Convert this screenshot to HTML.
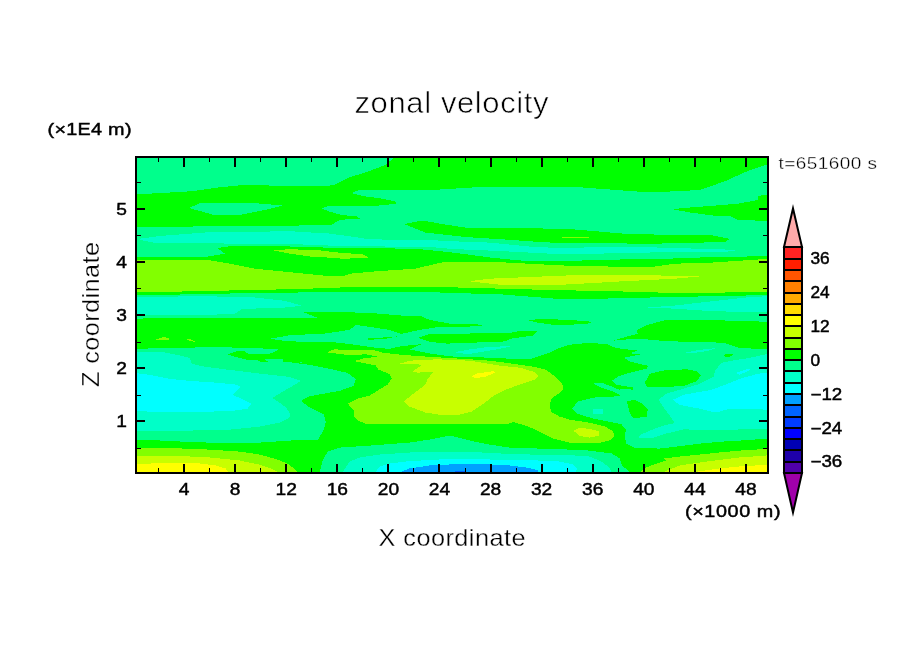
<!DOCTYPE html>
<html><head><meta charset="utf-8"><title>zonal velocity</title>
<style>
html,body{margin:0;padding:0;background:#fff;}
body{width:904px;height:654px;overflow:hidden;}
svg{display:block;}
text{font-family:"Liberation Sans",sans-serif;fill:#000;}
.thin{stroke:#fff;stroke-width:0.9px;}
.lab{font-size:16.5px;stroke:#000;stroke-width:0.5px;}
</style></head><body>
<svg width="904" height="654" viewBox="0 0 904 654">
<rect x="0" y="0" width="904" height="654" fill="#fff"/>
<defs><clipPath id="pc"><rect x="136" y="157" width="632" height="316"/></clipPath></defs>
<g clip-path="url(#pc)" shape-rendering="crispEdges">
<rect x="136" y="157" width="632" height="316" fill="#00ff8c"/>
<polygon fill="#00ff00" points="135.0,194.5 192.5,191.2 217.5,187.5 242.5,185.0 305.0,186.2 327.2,186.0 334.9,184.7 348.9,177.7 372.1,170.0 385.0,165.0 393.8,158.0 394.0,155.0 770.0,155.0 770.0,163.5 750.0,170.0 725.0,181.2 700.0,190.0 650.0,192.5 582.5,187.5 550.0,187.0 480.0,187.0 440.0,189.5 358.9,190.1 351.2,193.2 364.3,196.3 382.9,198.7 396.1,201.7 396.1,203.8 378.3,205.6 351.9,205.6 327.2,206.4 321.7,208.6 330.3,211.8 341.1,214.9 356.6,216.5 359.7,218.5 347.3,219.2 339.6,220.3 331.8,224.5 314.8,225.0 290.0,225.8 230.0,226.2 135.0,227.0"/>
<polygon fill="#00ff8c" points="188.8,208.0 200.0,203.2 255.0,203.2 282.5,205.5 265.0,210.0 242.5,214.5 230.0,215.5 212.5,214.5"/>
<polygon fill="#00ff00" points="672.0,209.2 690.0,207.5 737.5,203.8 757.5,200.0 757.5,196.2 767.0,194.5 772.5,194.5 772.5,221.2 767.0,221.2 737.5,219.5 730.0,216.2 712.5,215.5 690.0,212.5"/>
<polygon fill="#00ff00" points="405.0,223.8 422.5,220.5 445.0,224.5 465.0,227.5 566.0,228.8 587.5,230.5 625.0,233.8 675.0,235.0 712.5,235.5 730.0,239.0 725.0,242.0 650.0,243.8 550.0,242.5 540.0,242.0 505.0,239.5 465.0,237.0 425.0,232.5 405.0,224.5"/>
<polygon fill="#82ff00" points="562.0,237.0 589.0,237.0 589.0,238.0 562.0,238.0"/>
<polygon fill="#00ff00" points="135.0,257.5 205.0,257.0 225.0,253.7 217.5,248.0 230.0,246.2 290.0,246.5 340.0,248.0 415.0,248.7 452.5,252.5 490.0,257.5 527.5,261.2 566.0,261.0 589.0,260.3 628.0,259.3 660.0,259.0 700.0,257.5 770.0,256.0 770.0,295.0 650.0,297.5 566.0,299.5 502.5,294.5 440.0,292.5 340.0,292.0 255.0,293.0 180.0,294.5 135.0,295.5"/>
<polygon fill="#82ff00" points="135.0,259.5 205.0,259.5 230.0,263.7 255.0,268.7 280.0,271.2 305.0,273.7 330.0,276.2 343.0,276.2 350.0,273.7 377.5,271.2 415.0,268.7 445.0,261.7 490.0,261.7 540.0,264.3 557.0,265.2 583.0,266.3 600.0,266.3 628.0,267.0 653.0,266.8 675.0,263.7 712.5,262.5 750.0,260.0 770.0,258.7 770.0,292.0 725.0,292.5 675.0,293.0 612.0,291.2 550.0,290.0 502.0,288.7 440.0,287.0 340.0,287.5 300.0,289.0 135.0,292.5"/>
<polygon fill="#82ff00" points="273.7,250.5 290.0,249.0 302.0,249.8 321.0,250.5 336.5,252.4 362.8,254.4 369.8,258.3 341.0,258.6 327.0,257.5 308.6,256.4 290.0,253.6"/>
<polygon fill="#c8ff00" points="468.7,281.2 490.0,278.7 530.0,277.0 566.0,275.5 600.0,275.0 625.0,275.0 675.0,275.7 702.5,276.2 675.0,278.7 625.0,281.2 566.0,284.5 502.5,285.0"/>
<polygon fill="#00ffc8" points="140.0,238.7 160.0,236.0 205.0,232.5 290.0,231.2 302.0,232.0 328.7,233.5 352.0,236.6 364.0,238.5 390.7,240.0 430.0,240.0 450.0,241.2 490.0,242.6 530.0,246.6 561.0,248.2 600.0,247.0 650.0,247.3 725.0,249.5 735.0,250.5 725.0,252.0 650.0,252.5 600.0,253.6 566.0,254.5 500.0,251.0 452.0,249.0 430.0,247.0 340.0,246.0 290.0,244.0 155.0,243.0 140.0,240.0"/>
<polygon fill="#00ffc8" points="135.0,297.0 205.0,296.2 255.0,297.5 285.0,300.8 302.5,305.8 280.0,308.0 242.5,308.8 235.0,313.8 205.0,315.0 135.0,315.0"/>
<polygon fill="#00ff00" points="134.0,319.9 143.9,318.3 310.0,317.5 316.9,317.5 303.9,312.3 315.9,311.5 369.6,312.9 401.5,315.5 421.4,316.3 429.4,319.9 449.3,323.5 470.0,324.3 469.9,323.5 484.8,325.3 469.9,326.3 470.0,326.9 439.3,326.9 419.4,329.9 401.5,333.9 389.6,329.9 369.6,326.9 355.7,324.9 349.7,329.9 319.9,334.2 290.0,334.8 287.3,335.8 269.4,338.8 289.3,341.4 290.0,341.4 333.8,342.2 355.7,344.8 375.6,347.8 389.6,348.8 401.5,346.2 421.4,344.2 409.5,349.4 429.4,353.4 449.9,356.4 489.8,357.7 509.7,358.7 529.6,359.3 549.6,352.8 557.5,348.8 569.5,344.8 589.4,342.8 607.3,344.2 615.3,347.8 629.9,349.8 637.8,350.2 629.9,353.4 641.8,354.2 623.9,357.7 629.9,361.7 647.8,365.7 646.8,368.7 629.9,372.7 617.9,376.7 611.9,380.6 615.9,384.6 633.9,387.6 632.9,389.6 619.9,389.0 619.9,395.2 619.3,396.2 593.4,397.6 577.4,401.6 572.5,408.5 572.5,408.7 577.4,413.7 593.4,418.7 609.3,421.7 621.2,424.1 626.2,429.6 624.9,433.6 625.9,443.6 633.9,447.6 659.7,448.6 679.6,446.2 699.6,443.6 719.5,441.8 739.4,440.6 771.2,438.4 770.0,475.0 630.0,475.0 629.9,471.9 621.9,465.5 619.9,458.5 611.9,453.5 589.4,450.6 569.5,449.6 539.6,448.6 509.7,447.6 489.8,444.6 469.9,440.6 450.0,435.6 449.3,435.6 429.4,439.6 409.5,442.6 369.6,445.6 339.8,447.6 327.8,451.6 322.9,459.5 319.9,471.9 320.0,475.0 135.0,475.0 134.0,440.6 149.9,440.0 189.7,442.0 229.6,443.2 259.4,442.6 289.3,440.6 310.0,439.6 317.9,439.6 323.9,429.6 325.8,421.7 323.9,414.7 309.9,407.7 301.0,400.8 309.9,396.2 339.8,390.8 353.7,385.8 355.7,378.9 347.7,372.9 329.8,368.9 309.9,364.9 290.0,362.3 304.4,362.6 283.1,361.7 283.1,359.5 264.5,359.0 267.8,361.7 261.8,362.6 256.5,360.0 245.9,359.5 233.9,356.6 227.2,354.3 237.9,351.0 244.5,351.3 247.9,353.7 269.8,353.7 277.8,350.2 277.8,348.9 244.5,348.0 218.6,347.0 190.0,347.6 150.0,348.4 134.0,349.4"/>
<polygon fill="#82ff00" points="156.2,339.5 163.8,337.0 170.0,338.8 167.5,340.0"/>
<polygon fill="#82ff00" points="186.2,339.2 191.2,339.5 195.0,341.8 190.0,341.2"/>
<polygon fill="#00ff00" points="528.7,320.5 539.6,318.9 569.5,319.9 593.4,321.9 585.4,324.3 553.5,324.9 535.6,322.3"/>
<polygon fill="#00ff00" points="418.4,337.8 429.4,334.2 449.3,333.5 450.0,334.2 469.9,333.5 509.7,332.9 519.7,330.9 537.6,331.3 533.6,335.4 509.7,338.8 505.8,341.4 469.9,342.8 450.0,343.4 449.3,343.8 429.4,341.8"/>
<polygon fill="#00ff00" points="362.7,338.8 379.6,337.8 397.5,336.4 385.6,338.8 369.6,339.8"/>
<polygon fill="#00ff00" points="612.9,340.8 625.9,336.8 637.8,333.9 636.8,329.9 647.8,324.9 665.7,319.9 703.5,319.9 739.4,320.9 771.2,321.9 771.2,349.8 739.4,347.8 723.5,342.8 699.6,341.8 669.7,341.4 639.8,338.8 619.9,339.8"/>
<polygon fill="#00ff00" points="644.8,382.6 649.8,373.7 665.7,370.1 687.6,369.3 697.6,371.7 701.2,375.7 695.6,381.6 683.6,386.0 659.7,387.2 646.8,386.6"/>
<polygon fill="#00ff00" points="626.9,401.6 633.9,399.6 641.8,403.5 647.8,409.5 646.8,416.5 633.9,418.5 629.9,413.5"/>
<polygon fill="#00ff00" points="723.5,354.6 733.4,353.8 731.4,356.4 725.4,356.8"/>
<polygon fill="#00ff8c" points="593.3,383.8 594.6,383.0 602.2,383.0 611.9,386.6 619.0,389.7 620.5,389.7 620.5,395.4 611.0,390.7 600.4,387.2"/>
<polygon fill="#82ff00" points="326.8,352.4 333.8,349.4 349.7,349.8 373.6,350.2 383.6,352.8 401.5,354.8 429.4,356.8 449.9,358.1 469.9,359.3 489.8,360.7 509.7,363.3 533.6,366.7 545.6,369.7 555.5,376.7 562.5,384.6 562.5,389.6 558.5,393.6 551.6,398.6 549.6,405.5 551.6,412.5 559.5,416.5 569.5,419.7 589.4,422.7 605.3,426.7 613.3,431.6 614.3,436.6 609.3,440.6 597.4,443.2 569.5,442.6 553.5,438.6 537.6,430.6 525.7,425.7 513.7,422.1 507.7,424.1 450.0,423.7 365.7,423.7 357.7,420.7 353.7,415.7 353.7,410.5 347.7,403.5 357.7,398.6 369.6,395.6 377.6,390.6 387.6,384.6 391.6,378.7 389.6,374.1 378.6,369.7 375.6,365.3 353.7,361.1 365.7,357.9 378.6,356.9 365.7,354.2 351.7,355.4"/>
<polygon fill="#c8ff00" points="398.5,364.1 409.5,360.7 437.4,359.3 469.9,360.7 499.8,365.7 519.7,367.7 533.6,371.7 538.6,375.7 535.6,379.3 519.7,384.6 505.8,389.6 493.8,395.6 483.9,403.5 471.9,411.5 460.0,414.5 441.3,415.1 425.4,412.5 409.5,406.5 403.5,401.6 413.5,393.6 425.4,384.6 427.4,379.6 433.4,371.7 417.4,372.7 412.5,371.3 421.4,365.3 417.4,363.7"/>
<polygon fill="#c8ff00" points="573.5,430.6 579.4,428.1 589.4,428.7 599.3,431.6 599.3,435.6 589.4,437.6 579.4,436.0"/>
<polygon fill="#ffff00" points="471.9,376.7 475.9,373.7 493.8,371.1 494.8,372.7 485.8,376.7 475.9,378.1"/>
<polygon fill="#82ff00" points="134.0,447.6 169.8,448.0 209.6,449.6 239.5,451.6 259.4,454.5 277.4,459.5 289.3,464.5 297.3,471.9 135.0,475.0"/>
<polygon fill="#c8ff00" points="134.0,455.5 169.8,455.5 209.6,457.5 239.5,460.5 259.4,464.5 271.4,468.5 277.4,471.9 135.0,475.0"/>
<polygon fill="#ffff00" points="134.0,463.9 169.8,463.1 199.7,463.5 215.6,465.5 225.6,468.5 228.6,471.9 135.0,475.0"/>
<polygon fill="#82ff00" points="640.8,471.9 645.8,467.5 665.7,460.5 663.7,458.5 679.6,456.5 699.6,454.5 719.5,452.5 739.4,450.6 771.2,448.6 770.0,475.0"/>
<polygon fill="#c8ff00" points="663.7,471.9 679.6,465.5 699.6,462.5 719.5,459.9 739.4,457.5 771.2,455.1 770.0,475.0"/>
<polygon fill="#ffff00" points="695.6,471.9 719.5,468.5 739.4,466.5 771.2,464.5 770.0,475.0"/>
<polygon fill="#00ffc8" points="134.0,430.6 189.7,430.6 229.6,429.6 259.4,426.7 279.3,422.7 289.3,417.7 290.3,413.7 285.3,406.8 272.4,397.8 289.3,387.8 301.2,380.9 289.3,376.9 259.4,373.5 229.6,369.9 205.7,366.9 191.7,363.9 189.7,358.0 177.8,355.0 164.8,352.4 134.0,351.6"/>
<polygon fill="#00ffff" points="134.0,372.9 149.9,374.9 169.8,378.9 189.7,380.9 219.6,382.9 237.5,384.8 240.5,387.2 232.5,394.8 241.5,398.8 251.5,403.8 247.5,408.7 233.5,410.7 209.6,411.7 149.9,411.7 134.0,410.7"/>
<polygon fill="#00ffc8" points="342.8,471.9 349.7,461.5 359.7,457.5 379.6,454.5 409.5,452.5 439.3,451.6 470.0,451.6 489.8,453.1 529.6,454.5 569.5,455.1 589.4,456.5 601.3,461.5 609.3,467.5 611.3,471.9"/>
<polygon fill="#00ffff" points="375.6,471.9 379.6,466.5 389.6,463.5 409.5,461.1 439.3,459.5 470.0,459.1 489.8,459.5 529.6,460.1 559.5,461.5 573.5,464.5 577.4,468.5 575.4,471.9"/>
<polygon fill="#00a0ff" points="400.5,471.9 409.5,468.5 429.4,465.5 449.3,464.5 470.0,463.9 479.9,463.9 509.7,465.5 529.6,467.9 537.6,470.5 538.6,471.9"/>
<polygon fill="#0064ff" points="455.0,470.7 464.9,470.7 464.9,471.9 455.0,471.9"/>
<polygon fill="#00ffc8" points="600.0,467.5 608.0,469.5 609.0,471.9 600.0,471.9"/>
<polygon fill="#00ffc8" points="771.2,353.0 749.3,358.0 735.4,360.0 721.5,362.9 715.5,369.9 713.5,376.9 699.6,383.9 679.6,389.8 665.7,393.8 658.7,399.8 663.7,407.7 669.7,415.7 673.9,421.6 673.2,423.6 665.2,424.9 653.3,429.3 640.0,434.9 638.6,437.8 651.9,438.2 665.2,433.8 683.9,429.3 700.0,430.0 719.5,429.8 771.0,429.0"/>
<polygon fill="#00ffff" points="771.2,371.9 757.3,373.9 739.4,378.9 727.4,383.9 711.5,389.8 683.6,394.8 672.7,399.8 679.6,404.8 699.6,408.7 711.5,411.7 719.5,411.7 729.4,408.7 771.2,409.7"/>
<polygon fill="#00ffff" points="735.4,372.9 749.3,368.3 750.3,369.9 739.4,374.9"/>
<polygon fill="#00ffc8" points="647.5,307.5 675.0,305.5 712.5,301.2 750.0,297.0 770.0,296.2 770.0,312.5 712.5,311.2 675.0,308.7"/>
<polygon fill="#00ffc8" points="454.0,352.2 469.9,349.4 489.8,346.8 511.7,346.2 499.8,348.8 479.9,352.2 467.9,354.2"/>
<polygon fill="#00ffc8" points="593.0,408.5 602.9,408.5 602.9,413.9 593.0,413.9"/>
<polygon fill="#00ffc8" points="685.6,352.6 699.6,349.8 715.5,348.2 707.5,351.0 693.6,353.0"/>
</g>
<g shape-rendering="crispEdges" fill="none" stroke="#000">
<rect x="136" y="157" width="632" height="316" stroke-width="2"/>
<path d="M184 473V464M184 157V167M235 473V464M235 157V167M286 473V464M286 157V167M337 473V464M337 157V167M388 473V464M388 157V167M439 473V464M439 157V167M491 473V464M491 157V167M542 473V464M542 157V167M593 473V464M593 157V167M644 473V464M644 157V167M695 473V464M695 157V167M746 473V464M746 157V167M136 421H145M768 421H759M136 368H145M768 368H759M136 315H145M768 315H759M136 262H145M768 262H759M136 209H145M768 209H759" stroke-width="2"/>
<path d="M158.5 473V468M158.5 157V162M209.5 473V468M209.5 157V162M260.5 473V468M260.5 157V162M311.5 473V468M311.5 157V162M362.5 473V468M362.5 157V162M413.5 473V468M413.5 157V162M465.5 473V468M465.5 157V162M516.5 473V468M516.5 157V162M567.5 473V468M567.5 157V162M618.5 473V468M618.5 157V162M669.5 473V468M669.5 157V162M720.5 473V468M720.5 157V162M136 448.5H141M768 448.5H763M136 395.5H141M768 395.5H763M136 342.5H141M768 342.5H763M136 288.5H141M768 288.5H763M136 235.5H141M768 235.5H763M136 182.5H141M768 182.5H763" stroke-width="1"/>
</g>
<text transform="translate(184.0,495) scale(1.13,1)" font-size="17" text-anchor="middle" style="stroke:#000;stroke-width:0.45px">4</text>
<text transform="translate(235.1,495) scale(1.13,1)" font-size="17" text-anchor="middle" style="stroke:#000;stroke-width:0.45px">8</text>
<text transform="translate(286.2,495) scale(1.13,1)" font-size="17" text-anchor="middle" style="stroke:#000;stroke-width:0.45px">12</text>
<text transform="translate(337.3,495) scale(1.13,1)" font-size="17" text-anchor="middle" style="stroke:#000;stroke-width:0.45px">16</text>
<text transform="translate(388.4,495) scale(1.13,1)" font-size="17" text-anchor="middle" style="stroke:#000;stroke-width:0.45px">20</text>
<text transform="translate(439.5,495) scale(1.13,1)" font-size="17" text-anchor="middle" style="stroke:#000;stroke-width:0.45px">24</text>
<text transform="translate(490.6,495) scale(1.13,1)" font-size="17" text-anchor="middle" style="stroke:#000;stroke-width:0.45px">28</text>
<text transform="translate(541.6,495) scale(1.13,1)" font-size="17" text-anchor="middle" style="stroke:#000;stroke-width:0.45px">32</text>
<text transform="translate(592.7,495) scale(1.13,1)" font-size="17" text-anchor="middle" style="stroke:#000;stroke-width:0.45px">36</text>
<text transform="translate(643.8,495) scale(1.13,1)" font-size="17" text-anchor="middle" style="stroke:#000;stroke-width:0.45px">40</text>
<text transform="translate(694.9,495) scale(1.13,1)" font-size="17" text-anchor="middle" style="stroke:#000;stroke-width:0.45px">44</text>
<text transform="translate(746.0,495) scale(1.13,1)" font-size="17" text-anchor="middle" style="stroke:#000;stroke-width:0.45px">48</text>
<text transform="translate(127,427.0) scale(1.13,1)" font-size="17" text-anchor="end" style="stroke:#000;stroke-width:0.45px">1</text>
<text transform="translate(127,374.0) scale(1.13,1)" font-size="17" text-anchor="end" style="stroke:#000;stroke-width:0.45px">2</text>
<text transform="translate(127,321.0) scale(1.13,1)" font-size="17" text-anchor="end" style="stroke:#000;stroke-width:0.45px">3</text>
<text transform="translate(127,268.0) scale(1.13,1)" font-size="17" text-anchor="end" style="stroke:#000;stroke-width:0.45px">4</text>
<text transform="translate(127,215.0) scale(1.13,1)" font-size="17" text-anchor="end" style="stroke:#000;stroke-width:0.45px">5</text>
<g shape-rendering="crispEdges" stroke="#000" stroke-width="2">
<rect x="784" y="247" width="18" height="12" fill="#ff2323"/><rect x="784" y="259" width="18" height="11" fill="#ff1e00"/><rect x="784" y="270" width="18" height="11" fill="#ff5500"/><rect x="784" y="281" width="18" height="12" fill="#ff8000"/><rect x="784" y="293" width="18" height="11" fill="#ffaa00"/><rect x="784" y="304" width="18" height="11" fill="#ffdc00"/><rect x="784" y="315" width="18" height="11" fill="#ffff00"/><rect x="784" y="326" width="18" height="12" fill="#c8ff00"/><rect x="784" y="338" width="18" height="11" fill="#82ff00"/><rect x="784" y="349" width="18" height="11" fill="#00ff00"/><rect x="784" y="360" width="18" height="11" fill="#00ff8c"/><rect x="784" y="371" width="18" height="12" fill="#00ffc8"/><rect x="784" y="383" width="18" height="11" fill="#00ffff"/><rect x="784" y="394" width="18" height="11" fill="#00a0ff"/><rect x="784" y="405" width="18" height="12" fill="#0064ff"/><rect x="784" y="417" width="18" height="11" fill="#003cff"/><rect x="784" y="428" width="18" height="11" fill="#0000ff"/><rect x="784" y="439" width="18" height="11" fill="#0000b4"/><rect x="784" y="450" width="18" height="12" fill="#1e00aa"/><rect x="784" y="462" width="18" height="11" fill="#5000aa"/>
</g>
<g stroke="#000" stroke-width="2" stroke-linejoin="miter" stroke-miterlimit="10">
<polygon points="784,247 793,208.5 802,247" fill="#ffaaaa"/>
<polygon points="784,473 793,512.5 802,473" fill="#a000aa"/>
</g>
<text transform="translate(810.5,264.0) scale(1.08,1)" font-size="16" text-anchor="start" style="stroke:#000;stroke-width:0.45px">36</text>
<text transform="translate(810.5,297.9) scale(1.08,1)" font-size="16" text-anchor="start" style="stroke:#000;stroke-width:0.45px">24</text>
<text transform="translate(810.5,331.8) scale(1.08,1)" font-size="16" text-anchor="start" style="stroke:#000;stroke-width:0.45px">12</text>
<text transform="translate(810.5,365.7) scale(1.08,1)" font-size="16" text-anchor="start" style="stroke:#000;stroke-width:0.45px">0</text>
<text transform="translate(810.5,399.6) scale(1.17,1)" font-size="16" text-anchor="start" style="stroke:#000;stroke-width:0.45px">−12</text>
<text transform="translate(810.5,433.5) scale(1.17,1)" font-size="16" text-anchor="start" style="stroke:#000;stroke-width:0.45px">−24</text>
<text transform="translate(810.5,467.4) scale(1.17,1)" font-size="16" text-anchor="start" style="stroke:#000;stroke-width:0.45px">−36</text>
<text transform="translate(451.5,112.5) scale(1.07,1)" font-size="29" text-anchor="middle" textLength="181.3" lengthAdjust="spacing" style="stroke:#fff;stroke-width:0.6px">zonal velocity</text>
<text transform="translate(452,546) scale(1.1,1)" font-size="23" text-anchor="middle" textLength="133.6" lengthAdjust="spacing" style="stroke:#fff;stroke-width:0.3px">X coordinate</text>
<text transform="translate(99,314.5) rotate(-90) scale(1.1,1)" font-size="23" text-anchor="middle" textLength="131.8" lengthAdjust="spacing" style="stroke:#fff;stroke-width:0.3px">Z coordinate</text>
<text transform="translate(47.5,134.6) scale(1.2,1)" font-size="16.5" text-anchor="start" textLength="70.0" lengthAdjust="spacing" style="stroke:#000;stroke-width:0.45px">(×1E4 m)</text>
<text transform="translate(685,517) scale(1.2,1)" font-size="16.5" text-anchor="start" textLength="79.6" lengthAdjust="spacing" style="stroke:#000;stroke-width:0.45px">(×1000 m)</text>
<text transform="translate(778.5,168.8) scale(1.15,1)" font-size="16.5" text-anchor="start" textLength="85.7" lengthAdjust="spacing" style="stroke:#fff;stroke-width:0.3px">t=651600 s</text>
</svg>
</body></html>
